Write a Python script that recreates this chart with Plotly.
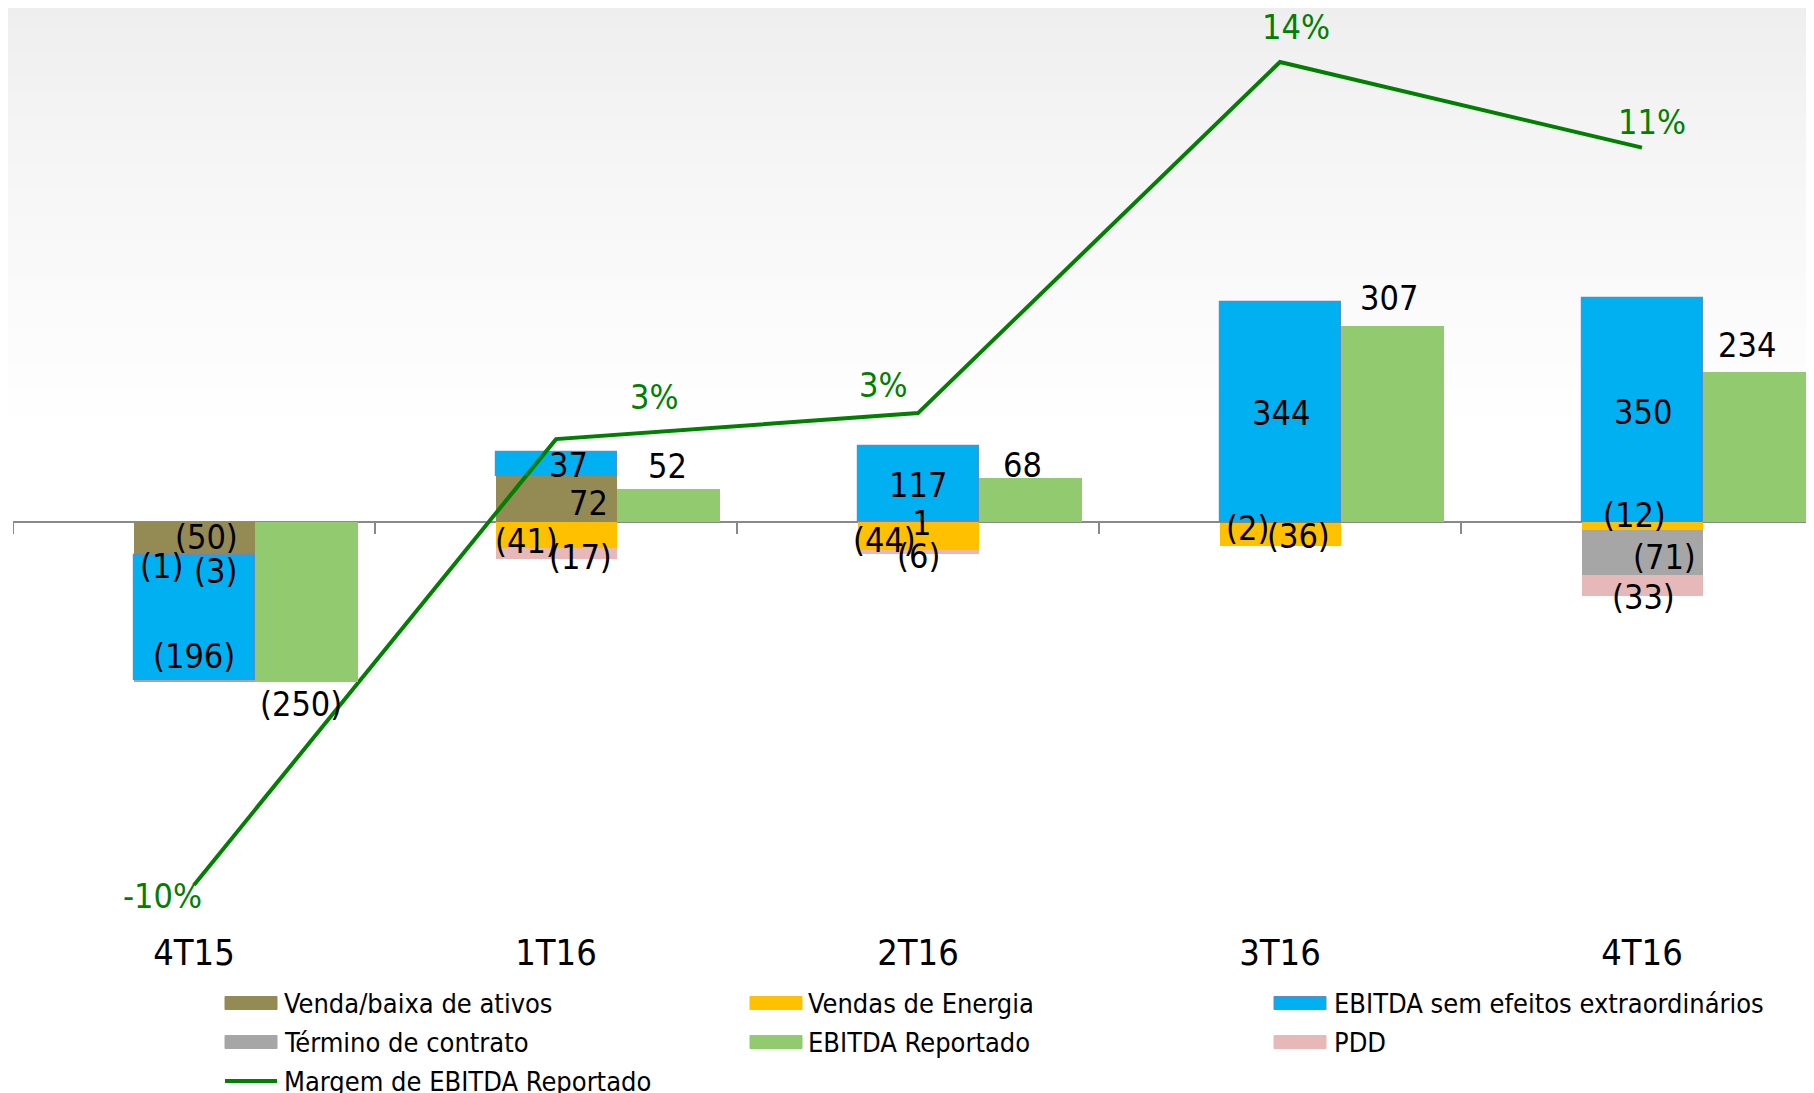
import plotly.graph_objects as go

# ---------------- data ----------------
quarters = ["4T15", "1T16", "2T16", "3T16", "4T16"]
venda = [-50, 72, 1, -2, 0]            # Venda/baixa de ativos
energia = [-1, -41, -44, -36, -12]     # Vendas de Energia
ebitda_sem = [-196, 37, 117, 344, 350] # EBITDA sem efeitos extraordinários
termino = [-3, 0, 0, 0, -71]           # Término de contrato
pdd = [0, -17, -6, 0, -33]             # PDD
reportado = [-250, 52, 68, 307, 234]   # EBITDA Reportado
margem = [-0.10, 0.030, 0.0376, 0.14, 0.115]  # Margem de EBITDA Reportado
margem_labels = ["-10%", "3%", "3%", "14%", "11%"]

# ---------------- layout constants (page body has an 8px margin) ----------------
OFF = 8
W, H = 1814 - OFF, 1093 - OFF
L = 13 - OFF
PB = 905 - OFF            # plot bottom in figure px (top margin 0)
PW = W - L
PH = PB
PX_Y = 0.64               # px per unit on primary axis
ZERO_PX = 522 - OFF
PX_Y2 = 3429.0            # px per unit (fraction) on secondary axis
ZERO2_PX = 542 - OFF
CAT_PX = 362.0
XR = [-0.5, -0.5 + PW / CAT_PX]

FONT = "DejaVu Sans Condensed, Tahoma, DejaVu Sans, sans-serif"
LBL_SIZE = 34

C_VENDA = "#948A54"
C_ENERGIA = "#FFC000"
C_BLUE = "#00B0F0"
C_TERM = "#A6A6A6"
C_REP = "#92CA70"
C_PDD = "#E6B9B8"
C_LINE = "#008000"

STACK_OFF, STACK_W = -0.166, 0.334
REP_OFF, REP_W = 0.169, 0.285

xs = list(range(len(quarters)))

series = [
    ("venda", "Venda/baixa de ativos", venda, C_VENDA),
    ("energia", "Vendas de Energia", energia, C_ENERGIA),
    ("blue", "EBITDA sem efeitos extraordinários", ebitda_sem, C_BLUE),
    ("termino", "Término de contrato", termino, C_TERM),
    ("pdd", "PDD", pdd, C_PDD),
]

fig = go.Figure()
for key, name, vals, col in series:
    fig.add_trace(go.Bar(
        x=xs, y=vals, name=name, offset=STACK_OFF, width=STACK_W,
        marker=dict(color=col, line=dict(color="#5B8BC9" if key == "blue" else col,
                                         width=1.2 if key == "blue" else 0)),
        showlegend=False, xaxis="x", yaxis="y"))

fig.add_trace(go.Bar(
    x=xs, y=reportado, name="EBITDA Reportado", offset=REP_OFF, width=REP_W,
    marker=dict(color=C_REP, line=dict(width=0)), showlegend=False,
    xaxis="x2", yaxis="y"))

fig.add_trace(go.Scatter(
    x=xs, y=margem, name="Margem de EBITDA Reportado", mode="lines",
    line=dict(color=C_LINE, width=4), showlegend=False, xaxis="x", yaxis="y2"))


def fmt(v):
    return f"({abs(v)})" if v < 0 else f"{v}"


# label fine offsets (pixels)  (xshift, yshift)
shifts = {
    ("venda", 0): (12, 1), ("energia", 0): (-33, -12), ("blue", 0): (0, -39),
    ("termino", 0): (21, 110), ("rep", 0): (-6, -22),
    ("venda", 1): (32, -4), ("energia", 1): (-30, -6), ("blue", 1): (12, -1),
    ("pdd", 1): (24, -3), ("rep", 1): (-1, 23),
    ("venda", 2): (3, -1), ("energia", 2): (-34, -4), ("blue", 2): (0, -1),
    ("pdd", 2): (0, -4), ("rep", 2): (-8, 13),
    ("venda", 3): (-33, -5), ("energia", 3): (18, -1), ("blue", 3): (1, -1),
    ("rep", 3): (-4, 28),
    ("energia", 4): (-8, 11), ("blue", 4): (1, -2), ("termino", 4): (22, -5),
    ("pdd", 4): (1, -11), ("rep", 4): (-8, 27),
}
m_shifts = [(-32, -11), (98, 42), (-35, 28), (16, 35), (10, 26)]

ann = []
for i in xs:
    pos, neg = 0.0, 0.0
    for key, name, vals, col in series:
        v = vals[i]
        if v > 0:
            mid = pos + v / 2
            pos += v
        elif v < 0:
            mid = neg + v / 2
            neg += v
        else:
            continue
        sx, sy = shifts.get((key, i), (0, 0))
        ann.append(dict(x=i + STACK_OFF + STACK_W / 2, y=mid, xref="x", yref="y",
                        text=fmt(v), showarrow=False, xshift=sx, yshift=sy,
                        font=dict(size=LBL_SIZE, color="black", family=FONT)))
    sx, sy = shifts.get(("rep", i), (0, 0))
    ann.append(dict(x=i + REP_OFF + REP_W / 2, y=reportado[i], xref="x", yref="y",
                    text=fmt(reportado[i]), showarrow=False, xshift=sx, yshift=sy,
                    font=dict(size=LBL_SIZE, color="black", family=FONT)))
    sx, sy = m_shifts[i]
    ann.append(dict(x=i, y=margem[i], xref="x", yref="y2", text=margem_labels[i],
                    showarrow=False, xshift=sx, yshift=sy,
                    font=dict(size=LBL_SIZE, color=C_LINE, family=FONT)))


# helpers: reference-screen pixel -> paper coords
def pxx(px):
    return (px - OFF - L) / PW


def pxy(py):
    return (PB - (py - OFF)) / PH


shapes = []
# background gradient (slide background)
N = 36
for k in range(N):
    y0p, y1p = k * 12.5, (k + 1) * 12.5
    g = int(round(237 + (255 - 237) * (k / (N - 1)) ** 0.8))
    shapes.append(dict(type="rect", xref="paper", yref="paper",
                       x0=pxx(0), x1=pxx(1830), y0=pxy(y1p), y1=pxy(y0p - 10),
                       fillcolor=f"rgb({g},{g},{g})", line=dict(width=0), layer="below"))

# category tick marks on the zero axis
for b in range(len(quarters)):
    shapes.append(dict(type="line", xref="x", yref="y", x0=b - 0.5, x1=b - 0.5,
                       y0=0, y1=-12 / PX_Y, line=dict(color="#898989", width=2)))

# custom legend
legend_items = [
    ("Venda/baixa de ativos", C_VENDA, "rect", 225, 282, 1003),
    ("Vendas de Energia", C_ENERGIA, "rect", 750, 806, 1003),
    ("EBITDA sem efeitos extraordinários", C_BLUE, "rect", 1274, 1332, 1003),
    ("Término de contrato", C_TERM, "rect", 225, 282, 1042),
    ("EBITDA Reportado", C_REP, "rect", 750, 806, 1042),
    ("PDD", C_PDD, "rect", 1274, 1332, 1042),
    ("Margem de EBITDA Reportado", C_LINE, "line", 225, 282, 1081),
]
for label, col, kind, sx0, tx, cy in legend_items:
    if kind == "rect":
        lc = "#5B8BC9" if col == C_BLUE else col
        shapes.append(dict(type="rect", xref="paper", yref="paper",
                           x0=pxx(sx0), x1=pxx(sx0 + 52), y0=pxy(cy + 6.5), y1=pxy(cy - 6.5),
                           fillcolor=col, line=dict(color=lc, width=1)))
    else:
        shapes.append(dict(type="line", xref="paper", yref="paper",
                           x0=pxx(sx0), x1=pxx(sx0 + 52), y0=pxy(cy), y1=pxy(cy),
                           line=dict(color=col, width=4)))
    ann.append(dict(x=pxx(tx), y=pxy(cy), xref="paper", yref="paper", text=label,
                    showarrow=False, xanchor="left", yanchor="middle",
                    font=dict(size=27, color="black", family=FONT)))

# page number (partly cut off)
ann.append(dict(x=pxx(1804), y=pxy(1081), xref="paper", yref="paper", text="9",
                showarrow=False, xanchor="left", yanchor="middle",
                font=dict(size=33, color="black", family=FONT)))

y1_range = [-(PB - ZERO_PX) / PX_Y, ZERO_PX / PX_Y]
y2_range = [-(PB - ZERO2_PX) / PX_Y2, ZERO2_PX / PX_Y2]

fig.update_layout(
    width=W, height=H,
    margin=dict(l=L, r=0, t=0, b=H - PB, pad=0),
    paper_bgcolor="white", plot_bgcolor="rgba(0,0,0,0)",
    barmode="relative", bargap=0,
    font=dict(family=FONT, color="black"),
    xaxis=dict(range=XR, tickmode="array", tickvals=xs, ticktext=quarters,
               showgrid=False, zeroline=False, showline=False,
               ticks="outside", ticklen=16, tickcolor="rgba(0,0,0,0)",
               tickfont=dict(size=36, family=FONT, color="black"), fixedrange=True),
    xaxis2=dict(range=XR, overlaying="x", visible=False, fixedrange=True),
    yaxis=dict(range=y1_range, visible=True, showticklabels=False, showgrid=False,
               zeroline=True, zerolinecolor="#898989", zerolinewidth=2,
               showline=False, ticks="", fixedrange=True),
    yaxis2=dict(range=y2_range, overlaying="y", side="right", visible=False,
                fixedrange=True),
    shapes=shapes,
    annotations=ann,
)

fig.write_html("out.html")
